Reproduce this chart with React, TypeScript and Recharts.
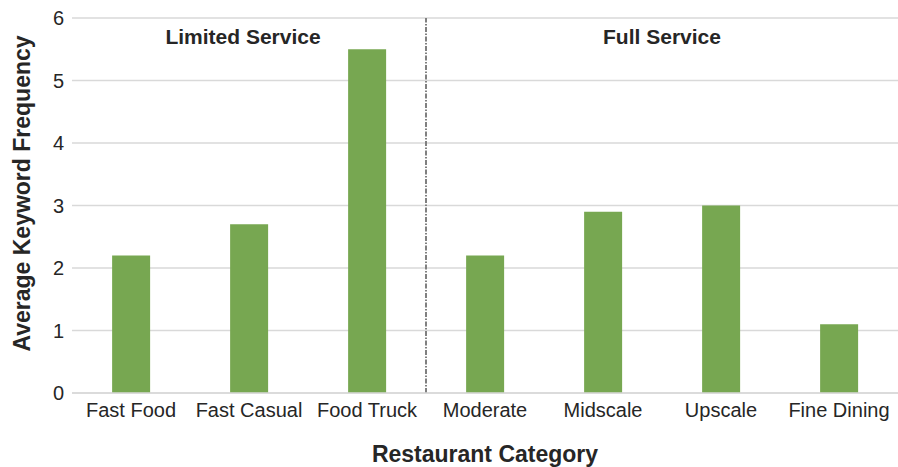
import { BarChart, Bar, XAxis, YAxis, CartesianGrid, ReferenceLine } from "recharts";

const categories = ["Fast Food", "Fast Casual", "Food Truck", "Moderate", "Midscale", "Upscale", "Fine Dining"];
const frequency = [2.2, 2.7, 5.5, 2.2, 2.9, 3.0, 1.1];
const yTicks = [0, 1, 2, 3, 4, 5, 6];
// group headings sit over these categories; "start" = left edge of the band
const groups = [
  { name: "Limited Service", at: "Fast Casual", position: "middle", dx: -6 },
  { name: "Full Service", at: "Upscale", position: "start", dx: 0 },
];
const dividerAt = "Moderate";

const data = categories.map((name, i) => ({ name, value: frequency[i] }));

const font = "'Liberation Sans', Arial, sans-serif";

export default function App() {
  return (
    <div style={{ position: "absolute", left: 0, top: 0, fontFamily: font }}>
      <BarChart width={898} height={467} data={data} margin={{ top: 18, right: 0, left: 0, bottom: 0 }} barCategoryGap="34%">
        <CartesianGrid vertical={false} stroke="#d9d9d9" strokeWidth={1.5} />
        <XAxis
          dataKey="name"
          tickLine={false}
          axisLine={{ stroke: "#d9d9d9", strokeWidth: 1.5 }}
          tick={{ fill: "#262626", fontSize: 20, fontFamily: font }}
          tickMargin={4}
          height={74}
          label={{ value: "Restaurant Category", position: "insideBottom", offset: 5, fill: "#262626", fontSize: 23, fontWeight: "bold", fontFamily: font }}
        />
        <YAxis
          domain={[0, 6]}
          ticks={yTicks}
          width={72}
          tickLine={false}
          axisLine={false}
          tick={{ fill: "#262626", fontSize: 20, fontFamily: font }}
          label={{ value: "Average Keyword Frequency", angle: -90, position: "insideLeft", offset: 22, dy: -12, style: { textAnchor: "middle" }, fill: "#262626", fontSize: 23, fontWeight: "bold", fontFamily: font }}
        />
        <ReferenceLine x={dividerAt} position="start" stroke="#808080" strokeWidth={2} strokeDasharray="5 1.5 1.5 1.5" />
        {groups.map((g) => (
          <ReferenceLine
            key={g.name}
            x={g.at}
            position={g.position as any}
            stroke="none"
            label={{ value: g.name, position: "insideTop", offset: 11, dx: g.dx, fill: "#262626", fontSize: 21, fontWeight: "bold", fontFamily: font }}
          />
        ))}
        <Bar dataKey="value" fill="#77a751" isAnimationActive={false} />
      </BarChart>
    </div>
  );
}
